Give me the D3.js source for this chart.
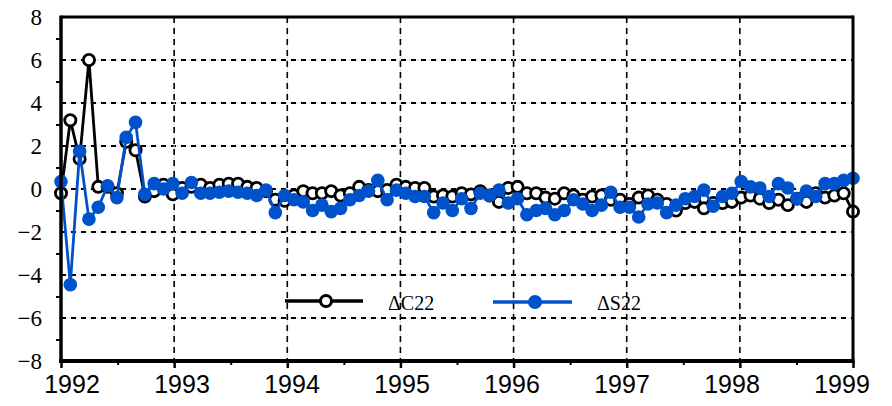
<!DOCTYPE html>
<html><head><meta charset="utf-8">
<script src="https://cdn.jsdelivr.net/npm/d3@7"></script>
<style>body{margin:0;background:#fff}svg{display:block}</style>
</head><body>
<svg id="c" width="892" height="406"></svg>
<script>
const startYear = 1992, endYear = 1999;
const c22 = [-0.2,3.2,1.4,6.0,0.1,0.1,-0.2,2.2,1.8,-0.35,
  -0.1,0.2,-0.25,0.05,0.1,0.2,0.05,0.2,0.25,0.25,
  0.1,0.05,-0.1,-0.5,-0.55,-0.3,-0.1,-0.2,-0.2,-0.1,
  -0.3,-0.2,0.1,-0.05,-0.1,-0.05,0.2,0.1,0.05,0.05,
  -0.35,-0.3,-0.35,-0.2,-0.25,-0.1,-0.3,-0.6,0.05,0.1,
  -0.2,-0.2,-0.4,-0.45,-0.2,-0.3,-0.5,-0.35,-0.3,-0.5,
  -0.5,-0.7,-0.4,-0.3,-0.5,-0.7,-1.0,-0.65,-0.6,-0.9,
  -0.65,-0.65,-0.6,-0.4,-0.3,-0.45,-0.65,-0.5,-0.75,-0.45,
  -0.6,-0.2,-0.4,-0.3,-0.2,-1.05];
const s22 = [0.35,-4.45,1.75,-1.4,-0.85,0.15,-0.4,2.4,3.1,-0.25,
  0.25,0.0,0.25,-0.2,0.3,-0.2,-0.2,-0.15,-0.1,-0.15,
  -0.2,-0.3,-0.05,-1.1,-0.3,-0.5,-0.6,-1.0,-0.75,-1.05,
  -0.9,-0.5,-0.3,-0.1,0.4,-0.5,-0.05,-0.2,-0.35,-0.35,
  -1.1,-0.65,-1.0,-0.45,-0.9,-0.2,-0.3,-0.05,-0.65,-0.45,
  -1.2,-1.0,-0.9,-1.2,-1.0,-0.5,-0.7,-1.0,-0.75,-0.15,
  -0.85,-0.85,-1.3,-0.7,-0.65,-1.1,-0.75,-0.45,-0.35,-0.05,
  -0.8,-0.35,-0.2,0.35,0.1,0.05,-0.35,0.25,0.05,-0.45,
  -0.1,-0.35,0.25,0.25,0.4,0.5];
const yTicks = [-8,-6,-4,-2,0,2,4,6,8];
const yMinor = [-7,-5,-3,-1,1,3,5,7];
const xTicks = [1992,1993,1994,1995,1996,1997,1998,1999];
const xMinor = [1992.5,1993.5,1994.5,1995.5,1996.5,1997.5,1998.5];
const legendLabels = ["\u0394C22","\u0394S22"];

const svg = d3.select("#c");
const L = 61, R = 853, T = 17, B = 361;
const x = d3.scaleLinear().domain([startYear, endYear]).range([L, R]);
const xLab = d3.scaleLinear().domain([startYear, endYear]).range([71.5, 841.5]);
const y = d3.scaleLinear().domain([-8, 8]).range([B, T]);
const n = c22.length;
const tOf = i => startYear + i * (endYear - startYear) / (n - 1);

// gridlines
const grid = svg.append("g");
const hg = yTicks.filter(v => v > -8 && v < 8);
const vg = xTicks.filter(v => v > startYear && v < endYear);
grid.selectAll(".hgl").data(hg).join("line")
  .attr("x1", L).attr("x2", R).attr("y1", d => y(d)).attr("y2", d => y(d))
  .attr("stroke", "#e2e2e2").attr("stroke-width", 1);
grid.selectAll(".hg").data(hg).join("line")
  .attr("x1", L).attr("x2", R).attr("y1", d => y(d)).attr("y2", d => y(d))
  .attr("stroke", "#000").attr("stroke-width", 2).attr("stroke-dasharray", "5,5");
grid.selectAll(".vgl").data(vg).join("line")
  .attr("x1", d => x(d)).attr("x2", d => x(d)).attr("y1", T).attr("y2", B)
  .attr("stroke", "#e2e2e2").attr("stroke-width", 1);
grid.selectAll(".vg").data(vg).join("line")
  .attr("x1", d => x(d)).attr("x2", d => x(d)).attr("y1", T).attr("y2", B)
  .attr("stroke", "#000").attr("stroke-width", 1.6).attr("stroke-dasharray", "6,5");

// series
const line = d3.line().x((d, i) => x(tOf(i))).y(d => y(d));
svg.append("path").datum(c22).attr("d", line).attr("fill", "none")
  .attr("stroke", "#000").attr("stroke-width", 2.8).attr("stroke-linejoin", "round");
svg.append("g").selectAll("circle").data(c22).join("circle")
  .attr("cx", (d, i) => x(tOf(i))).attr("cy", d => y(d)).attr("r", 5.6)
  .attr("fill", "#fff").attr("stroke", "#000").attr("stroke-width", 2.8);
const blue = "#0052cc";
svg.append("path").datum(s22).attr("d", line).attr("fill", "none")
  .attr("stroke", blue).attr("stroke-width", 2.8).attr("stroke-linejoin", "round");
svg.append("g").selectAll("circle").data(s22).join("circle")
  .attr("cx", (d, i) => x(tOf(i))).attr("cy", d => y(d)).attr("r", 6.8)
  .attr("fill", blue);

// axes
const yAx = svg.append("g").attr("transform", `translate(${L},0)`)
  .call(d3.axisLeft(y).tickValues(yTicks).tickSize(0).tickPadding(19).tickFormat(d3.format("d")));
yAx.select(".domain").remove();
yAx.selectAll("text").attr("font-family", "'Liberation Serif', serif").attr("font-size", 23).attr("fill", "#000");
const yMi = svg.append("g").attr("transform", `translate(${L},0)`)
  .call(d3.axisLeft(y).tickValues(yMinor).tickSize(5).tickFormat(""));
yMi.select(".domain").remove();
yMi.selectAll("line").attr("stroke-width", 2);

const xMa = svg.append("g").attr("transform", `translate(0,${B})`)
  .call(d3.axisBottom(x).tickValues(xTicks).tickSize(7).tickFormat(""));
xMa.select(".domain").remove();
xMa.selectAll("line").attr("stroke-width", 2.5);
const xMi = svg.append("g").attr("transform", `translate(0,${B})`)
  .call(d3.axisBottom(x).tickValues(xMinor).tickSize(4).tickFormat(""));
xMi.select(".domain").remove();
xMi.selectAll("line").attr("stroke-width", 2);
const xL = svg.append("g").attr("transform", `translate(0,${B})`)
  .call(d3.axisBottom(xLab).tickValues(xTicks).tickSize(0).tickPadding(14).tickFormat(d3.format("d")));
xL.select(".domain").remove();
xL.selectAll("text").attr("font-family", "'Liberation Sans', Arial, sans-serif").attr("font-size", 25).attr("fill", "#000");

// frame
svg.append("line").attr("x1", L).attr("x2", R).attr("y1", T).attr("y2", T).attr("stroke", "#000").attr("stroke-width", 3);
svg.append("line").attr("x1", L).attr("x2", L).attr("y1", T - 1.5).attr("y2", B + 2).attr("stroke", "#000").attr("stroke-width", 3.5);
svg.append("line").attr("x1", R).attr("x2", R).attr("y1", T - 1.5).attr("y2", B + 2).attr("stroke", "#000").attr("stroke-width", 3);
svg.append("line").attr("x1", L - 2).attr("x2", R + 1.5).attr("y1", B).attr("y2", B).attr("stroke", "#000").attr("stroke-width", 4);

// legend
const leg = [
  {label: legendLabels[0], x0: 285, x1: 363, cx: 326, ly: 301, tx: 388, color: "#000", open: true},
  {label: legendLabels[1], x0: 493, x1: 572, cx: 535, ly: 302, tx: 597, color: blue, open: false}
];
const lg = svg.append("g").selectAll("g").data(leg).join("g");
lg.append("line").attr("x1", d => d.x0).attr("x2", d => d.x1).attr("y1", d => d.ly).attr("y2", d => d.ly)
  .attr("stroke", d => d.color).attr("stroke-width", 3.5);
lg.append("circle").attr("cx", d => d.cx).attr("cy", d => d.ly).attr("r", d => d.open ? 5.5 : 7)
  .attr("fill", d => d.open ? "#fff" : d.color).attr("stroke", d => d.open ? "#000" : "none").attr("stroke-width", 3);
lg.append("text").attr("x", d => d.tx).attr("y", 310).text(d => d.label)
  .attr("font-family", "'Liberation Serif', serif").attr("font-size", 20).attr("fill", "#000");
</script>
</body></html>
